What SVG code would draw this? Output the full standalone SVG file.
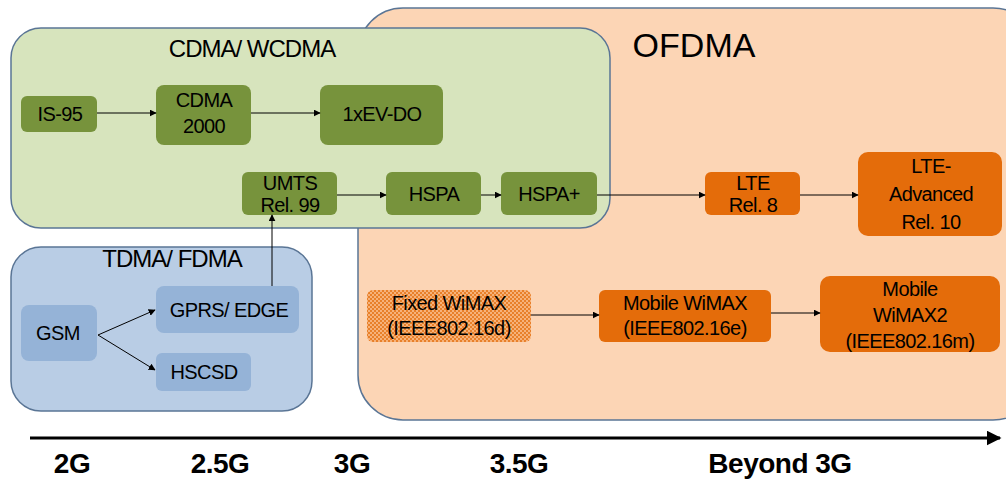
<svg xmlns="http://www.w3.org/2000/svg" width="1006" height="484" viewBox="0 0 1006 484">
<style>
.grp{stroke:#5a7595;stroke-width:1.5}
.t{font-family:"Liberation Sans",Arial,sans-serif;fill:#000;text-anchor:middle}
.n{font-size:20px;letter-spacing:-0.6px}
.h{font-size:24px;letter-spacing:-1px}
.tl{font-size:28px;font-weight:bold;letter-spacing:-0.5px}
.g{fill:#77933c}
.o{fill:#e46c0a}
.b{fill:#95b3d7}
.c{stroke:#000;stroke-width:1;fill:none;marker-end:url(#ah)}
</style>
<defs>
<marker id="ah" viewBox="0 0 10 10" refX="9" refY="5" markerWidth="7" markerHeight="7" markerUnits="userSpaceOnUse" orient="auto"><path d="M0,0 L10,5 L0,10 z" fill="#000"/></marker>
<marker id="big" viewBox="0 0 10 10" refX="9" refY="5" markerWidth="5" markerHeight="5" orient="auto"><path d="M0,0 L10,5 L0,10 z" fill="#000"/></marker>
<pattern id="chk" width="4" height="4" patternUnits="userSpaceOnUse"><rect width="4" height="4" fill="#f6b27a"/><rect width="2" height="2" fill="#e8802a"/><rect x="2" y="2" width="2" height="2" fill="#e8802a"/></pattern>
</defs>
<rect width="1006" height="484" fill="#fff"/>
<g id="ofdma">
<rect class="grp" x="358" y="8" width="680" height="412" rx="45" fill="#fcd5b5"/>
<text class="t" x="694" y="57" font-size="34">OFDMA</text>
</g>
<g id="cdma">
<rect class="grp" x="11" y="28" width="599" height="200" rx="30" fill="#d7e4bd"/>
<text class="t h" x="252" y="57">CDMA/ WCDMA</text>
</g>
<g id="tdma">
<rect class="grp" x="11" y="247" width="301" height="164" rx="30" fill="#b9cde5"/>
<text class="t h" x="172" y="267">TDMA/ FDMA</text>
</g>
<g id="is95"><rect class="g" x="21" y="96" width="76" height="36" rx="6"/><text class="t n" x="60" y="121">IS-95</text></g>
<g id="cdma2000"><rect class="g" x="156" y="85" width="95" height="60" rx="8"/><text class="t n" x="204" y="107">CDMA</text><text class="t n" x="204" y="133">2000</text></g>
<g id="evdo"><rect class="g" x="320" y="85" width="123" height="60" rx="8"/><text class="t n" x="382" y="121">1xEV-DO</text></g>
<g id="umts"><rect class="g" x="242" y="172" width="95" height="43" rx="6"/><text class="t n" x="290" y="190">UMTS</text><text class="t n" x="290" y="212">Rel. 99</text></g>
<g id="hspa"><rect class="g" x="386" y="172" width="95" height="43" rx="6"/><text class="t n" x="434" y="201">HSPA</text></g>
<g id="hspap"><rect class="g" x="501" y="172" width="96" height="43" rx="6"/><text class="t n" x="549" y="201">HSPA+</text></g>
<g id="lte"><rect class="o" x="705" y="172" width="95" height="43" rx="6"/><text class="t n" x="753" y="190">LTE</text><text class="t n" x="753" y="212">Rel. 8</text></g>
<g id="ltea"><rect class="o" x="858" y="152" width="144" height="84" rx="10"/><text class="t n" x="931" y="173">LTE-</text><text class="t n" x="931" y="201">Advanced</text><text class="t n" x="931" y="229">Rel. 10</text></g>
<g id="fixedwimax"><rect x="367" y="290" width="164" height="52" rx="6" fill="url(#chk)"/><text class="t n" x="449" y="310">Fixed WiMAX</text><text class="t n" x="449" y="335">(IEEE802.16d)</text></g>
<g id="mobilewimax"><rect class="o" x="599" y="290" width="172" height="52" rx="6"/><text class="t n" x="685" y="310">Mobile WiMAX</text><text class="t n" x="685" y="335">(IEEE802.16e)</text></g>
<g id="mobilewimax2"><rect class="o" x="820" y="276" width="180" height="76" rx="10"/><text class="t n" x="910" y="296">Mobile</text><text class="t n" x="910" y="322">WiMAX2</text><text class="t n" x="910" y="348">(IEEE802.16m)</text></g>
<g id="gsm"><rect class="b" x="21" y="305" width="76" height="56" rx="8"/><text class="t n" x="58" y="340">GSM</text></g>
<g id="gprs"><rect class="b" x="156" y="286" width="143" height="47" rx="8"/><text class="t n" x="229" y="317">GPRS/ EDGE</text></g>
<g id="hscsd"><rect class="b" x="156" y="353" width="95" height="38" rx="6"/><text class="t n" x="204" y="379">HSCSD</text></g>
<g id="connectors">
<line class="c" x1="97" y1="113" x2="156" y2="113"/>
<line class="c" x1="251" y1="113" x2="320" y2="113"/>
<line class="c" x1="337" y1="195" x2="386" y2="195"/>
<line class="c" x1="481" y1="195" x2="501" y2="195"/>
<line class="c" x1="597" y1="195" x2="705" y2="195"/>
<line class="c" x1="800" y1="195" x2="858" y2="195"/>
<line class="c" x1="272" y1="286" x2="272" y2="215"/>
<line class="c" x1="98" y1="335" x2="155" y2="310"/>
<line class="c" x1="98" y1="335" x2="155" y2="370"/>
<line class="c" x1="531" y1="315" x2="599" y2="315"/>
<line class="c" x1="771" y1="313" x2="820" y2="313"/>
<line x1="30" y1="438" x2="1000" y2="438" stroke="#000" stroke-width="3" marker-end="url(#big)"/>
</g>
<g id="timeline">
<text class="t tl" x="72" y="473">2G</text>
<text class="t tl" x="220" y="473">2.5G</text>
<text class="t tl" x="352" y="473">3G</text>
<text class="t tl" x="519" y="473">3.5G</text>
<text class="t tl" x="780" y="473">Beyond 3G</text>
</g>
</svg>
